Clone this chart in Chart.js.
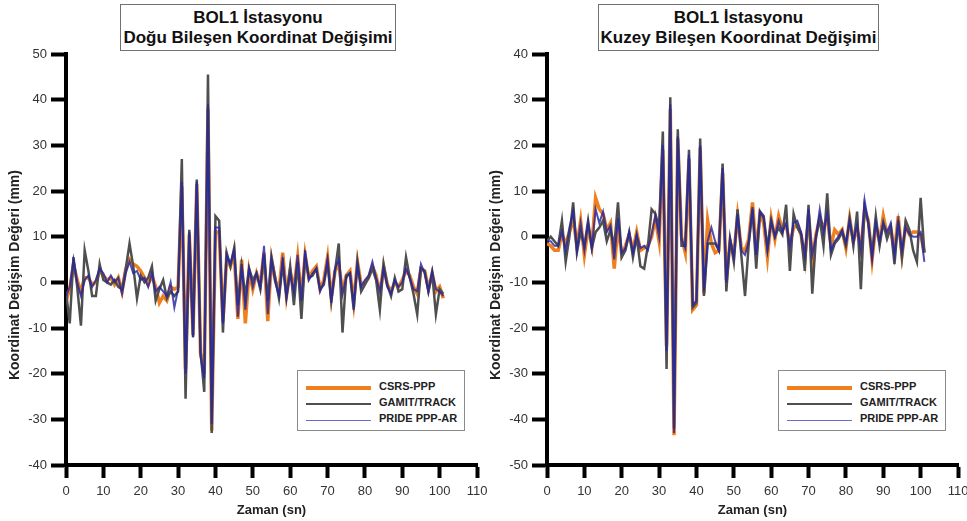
<!DOCTYPE html>
<html>
<head>
<meta charset="utf-8">
<script src="https://cdn.jsdelivr.net/npm/chart.js@4/dist/chart.umd.min.js"></script>
<style>
    body { margin: 0; background: #fff; font-family: "Liberation Sans", Arial, sans-serif; }
    #wrap { position: relative; width: 967px; height: 521px; overflow: hidden; }
    .panel { position: absolute; top: 0; width: 495px; height: 521px; }
    .panel canvas { position: absolute; left: 0; top: 0; }
    .title-box {
        position: absolute; top: 4px; left: 120px; width: 274px; height: 42px;
        border: 1px solid #707070; background: #fff; white-space: nowrap;
        font-weight: bold; font-size: 17px; line-height: 20px; text-align: center; color: #111;
        padding-top: 3px;
    }
    .legend-box {
        position: absolute; left: 297px; top: 370px; width: 166px; height: 59px;
        border: 1px solid #8a8a8a; background: #fff;
    }
    .legend-row { position: absolute; left: 8px; height: 14px; }
    .legend-row .swatch { position: absolute; left: 0; width: 65px; }
    .legend-row span {
        position: absolute; left: 73px; top: -1px; white-space: nowrap;
        font-weight: bold; font-size: 11px; color: #222;
    }
</style>
</head>
<body>
<div id="wrap">
    <div class="panel" style="left:0">
        <canvas id="eastChart" width="495" height="521"></canvas>
        <div class="title-box">BOL1 İstasyonu<br>Doğu Bileşen Koordinat Değişimi</div>
        <div class="legend-box" id="eastLegend"></div>
    </div>
    <div class="panel" style="left:481px">
        <canvas id="northChart" width="495" height="521"></canvas>
        <div class="title-box" style="left:117px;width:279px">BOL1 İstasyonu<br>Kuzey Bileşen Koordinat Değişimi</div>
        <div class="legend-box" id="northLegend"></div>
    </div>
</div>
<script>
const seriesNames = ['CSRS-PPP', 'GAMIT/TRACK', 'PRIDE PPP-AR'];

const timeSec = [0, 1, 2, 3, 4, 5, 6, 7, 8, 9, 10, 11, 12, 13, 14, 15, 16, 17, 18, 19,
    20, 21, 22, 23, 24, 25, 26, 27, 28, 29, 30, 31, 32, 33, 34, 35, 36, 37, 38, 39,
    40, 41, 42, 43, 44, 45, 46, 47, 48, 49, 50, 51, 52, 53, 54, 55, 56, 57, 58, 59,
    60, 61, 62, 63, 64, 65, 66, 67, 68, 69, 70, 71, 72, 73, 74, 75, 76, 77, 78, 79,
    80, 81, 82, 83, 84, 85, 86, 87, 88, 89, 90, 91, 92, 93, 94, 95, 96, 97, 98, 99,
    100, 101];

// Doğu (east) component, mm
const eastCsrs = [-4, -1.5, 4, 0.5, -2, 1, 1, -0.5, 0, 2.5, 1.5, 0.5, 1, -0.5, 1, -2, 3, 5, 4, 3.5,
    2.5, 1, -0.5, 1.5, -1, -4.5, -3, -4, -1, -1.5, -1, 21, -19, 10.5, -11.5, 21.5, -15.5, -20, 38, -32.5,
    11, 11, -8.5, 5.5, 3.5, 6.5, -8, 5, -9, 2.5, -1.5, 2, -0.5, 6.5, -8.5, 5, 0.5, -2, 6.5, -3,
    2.5, -1.5, 5.5, -3.5, 6, 1, 2.5, 3.5, -1.5, 0.5, 5.5, -3.5, 2.5, 4, -2, 1.5, 2.5, -4.5, 4.5, -0.5,
    0, 1, 3.5, 1.5, -2.5, 3.5, -0.5, -2, 0, -1, 0.5, 2.5, 1.5, -1, -2.5, 3, 2.5, -1.5, 2, -2,
    -1, -3.5];
const eastGamit = [-2, -9, 5.5, -1, -9.5, 7, 2.5, -3, -3, 4, 0.5, 0, -0.5, 0.5, -1, -1.5, 3, 8.5, 3.5, -3.5,
    1.5, 0, 1, 3.5, -4, -1.5, 0.5, -3.5, -2, -3, -2, 27, -25.5, 11.5, -12, 22.5, -15, -24, 45.5, -33,
    14.5, 13.5, -11, 6.5, 3.5, 7.5, -5, 3.5, -3, 3, 0.5, 2, -1.5, 6, -4, 5.5, 1, -3.5, 4, -3,
    3.5, -5, 4.5, -8, 5.5, 1, 1.5, 3, -1.5, -0.5, 4.5, -4, 2.5, 8.5, -11, 1.5, 2, -6, 4.5, -2,
    -0.5, 1, 3, 0.5, -6, 4, -0.5, -3, 1, -2, -1.5, 5.5, 1, -2.5, -7, 3, 2.5, -2, 2, -7,
    -1.5, -2.5];
const eastPride = [-3, -1, 5, 0, -3, 0.5, 1.5, -1, 0.5, 3, 2, 0, 1.5, 0, 1, -2.5, 2, 4.5, 2, 2.5,
    0.5, 1, -1, 2, -2, -1, -2, -3, 0, -5.5, -1.5, 22, -20, 11, -12, 22, -16, -21, 39, -31,
    12, 12, -9, 6, 4, 7, -7.5, 4, -6, 3, -1, 2, -1, 8, -7, 5, 0, -3, 5.5, -3.5,
    2, -2, 6, -4, 7, 0.5, 2, 3, -2, 0, 5, -4.5, 3, 5, -2.5, 1, 2, -5, 4, -1,
    0.5, 1.5, 4.5, 1, -2, 3, -1, -2.5, 0.5, -1, 0, 3, 1, -1.5, -2, 4, 2, -2, 2.5, -1.5,
    -2, -3];

// Kuzey (north) component, mm
const northCsrs = [-1.5, -2, -3, -3, 0.5, -1.5, 1, 4, -2, 3.5, -4, 2, -2, 8.5, 6, 5, 1.5, 3, -7, 2.5,
    -4, -2, 0.5, -3, 1, -3, -2.5, -2, 0, 4, -1, 19, -24, 28, -43.5, 21.5, 0, -3.5, 17, -16,
    -15, 19.5, -12.5, 3.5, -1.5, -3.5, -3, 14, -9.5, -1, -4, 4.5, -2.5, -3, -0.5, 7.5, -3.5, 5, 3, -4.5,
    4, -0.5, 4.5, 1.5, 2.5, -1.5, 2, 2.5, 0.5, -5, 5, -5, 0.5, 4, 2, 4, -2, 1.5, 0.5, 1.5,
    -2.5, 4, -1, 2, -3, 6, 3.5, -5, 2.5, -1, 4.5, 0.5, 2, -3.5, 4.5, -4, 2.5, 0.5, 1, 1,
    0.5, -3.5];
const northGamit = [-1, 0, -1, -2, 3.5, -5.5, 0, 7.5, -3.5, 1, -2, 3.5, -2.5, 1, 2, 3.5, -1, 1.5, -2, 7.5,
    -4.5, -3, 1, -4.5, 0, -6.5, -7, -2, 6, 5, 2, 23, -29, 30.5, -42, 23.5, -2, -2, 19, -15.5,
    -14.5, 21.5, -13, -1.5, -1.5, -1.5, -3, 16, -12, -0.5, -5.5, 6, -4, -13, -1.5, 6, -7, 5.5, 4.5, -2.5,
    3.5, 0, 2, 0.5, 7, -7.5, 5, 2, 0.5, -7.5, 7, -12.5, 0, 4, -2, 9.5, -4, -1.5, -0.5, 1,
    -2, 4, -2, 5.5, -11.5, 6.5, 3, -4, 4.5, -2, 3, -0.5, 2, -6, 3.5, -4.5, 3.5, 1.5, -3, -5.5,
    8.5, -3.5];
const northPride = [-1, -1, -2, -2, 1, -3, 2, 5.5, -3, 3, -3, 3, -2.5, 6, 3, 5.5, 1, 2.5, -5, 4,
    -3.5, -2.5, 1, -3.5, 0.5, -2.5, -2, -3, 0.5, 4.5, 0, 20, -25, 29, -43, 22, -0.5, -2.5, 18, -15,
    -14, 20, -12, -1, 2, -1, -3, 15, -10, -0.5, -4.5, 5, -3, -4, -1, 6.5, -4, 5.5, 4, -3,
    3.5, 0, 3.5, 1, 3, -2, 3, 3.5, 1, -4, 6, -4, 0, 6, 1, 5, -3, -1, 0, 1.5,
    -1.5, 3.5, -1, 2.5, -3, 8, 3, -5, 3, -1, 3, 1, 3, -4, 3.5, -3, 2, 0.5, 0, 0,
    1, -5.5];

const xTicks = [0, 10, 20, 30, 40, 50, 60, 70, 80, 90, 100, 110];

const lineStyles = [
    { color: '#F0801E', width: 3.5, legendWidth: 4, order: 3 },
    { color: '#4f4f4f', width: 2.5, legendWidth: 2.5, order: 2 },
    { color: 'rgba(38, 38, 160, 0.82)', width: 2, legendWidth: 1, order: 1 }
];

function toPoints(values) {
    return values.map((v, i) => ({ x: timeSec[i], y: v }));
}

function buildDatasets(seriesList) {
    return seriesList.map((values, i) => ({
        label: seriesNames[i],
        data: toPoints(values),
        borderColor: lineStyles[i].color,
        backgroundColor: lineStyles[i].color,
        borderWidth: lineStyles[i].width,
        pointRadius: 0,
        tension: 0,
        order: lineStyles[i].order
    }));
}

function makeChart(id, seriesList, yMin, yMax) {
    const ctx = document.getElementById(id).getContext('2d');
    return new Chart(ctx, {
        type: 'line',
        data: { datasets: buildDatasets(seriesList) },
        options: {
            responsive: false,
            animation: false,
            layout: { padding: { left: 4, top: 54, right: 18, bottom: 0 } },
            plugins: { legend: { display: false }, tooltip: { enabled: false } },
            scales: {
                x: {
                    type: 'linear', min: 0, max: 110,
                    afterBuildTicks: s => { s.ticks = xTicks.map(v => ({ value: v })); },
                    afterFit: s => { s.height = 56; s.paddingLeft = 0; s.paddingRight = 0; },
                    border: { display: true, width: 4, color: '#000' },
                    grid: { drawOnChartArea: false, drawTicks: true, tickLength: 13, tickWidth: 4, tickColor: '#000' },
                    ticks: { color: '#333', padding: 6, font: { family: 'Liberation Sans', size: 13 }, maxRotation: 0 },
                    title: { display: true, text: 'Zaman (sn)', color: '#222', padding: { top: 2, bottom: 3 },
                        font: { family: 'Liberation Sans', size: 13, weight: 'bold' } }
                },
                y: {
                    min: yMin, max: yMax,
                    ticks: { stepSize: 10, color: '#333', padding: 4, font: { family: 'Liberation Sans', size: 13 } },
                    afterFit: s => { s.width = 62; s.paddingTop = 0; s.paddingBottom = 0; },
                    border: { display: true, width: 4, color: '#000' },
                    grid: { drawOnChartArea: false, drawTicks: true, tickLength: 15, tickWidth: 4, tickColor: '#000' },
                    title: { display: true, text: 'Koordinat Değişim Değeri (mm)        ', color: '#222', padding: { top: 3, bottom: 3 },
                        font: { family: 'Liberation Sans', size: 14, weight: 'bold' } }
                }
            }
        }
    });
}

function renderLegend(id) {
    const box = document.getElementById(id);
    box.innerHTML = seriesNames.map((name, i) => {
        const st = lineStyles[i];
        const top = 10 + i * 16;
        return `<div class="legend-row" style="top:${top}px">
            <div class="swatch" style="top:${7 - st.legendWidth / 2}px;height:${st.legendWidth}px;background:${i === 2 ? '#6a6ac8' : st.color}"></div>
            <span>${name}</span></div>`;
    }).join('');
}

makeChart('eastChart', [eastCsrs, eastGamit, eastPride], -40, 50);
makeChart('northChart', [northCsrs, northGamit, northPride], -50, 40);
renderLegend('eastLegend');
renderLegend('northLegend');
</script>
</body>
</html>
